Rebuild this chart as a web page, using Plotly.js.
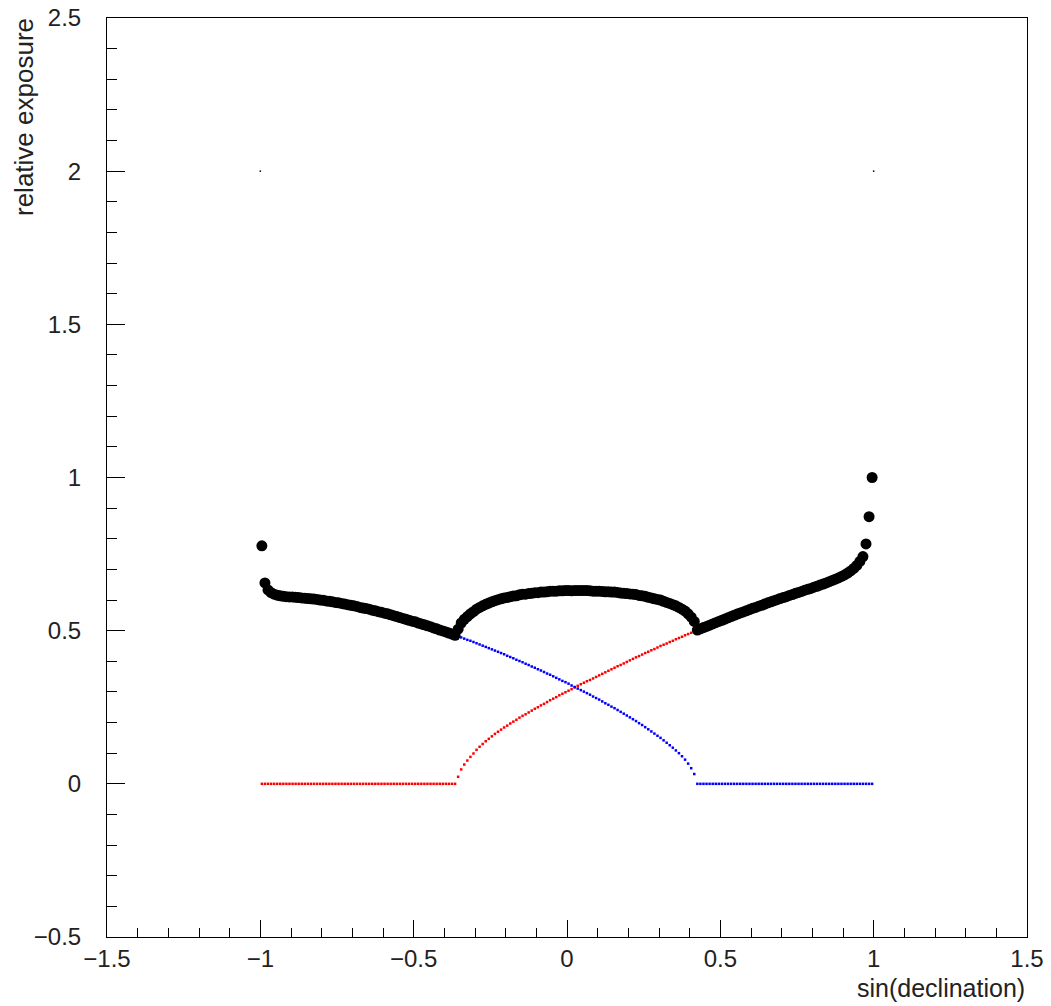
<!DOCTYPE html>
<html>
<head>
<meta charset="utf-8">
<script src="https://cdn.plot.ly/plotly-3.0.1.min.js"></script>
<style>html,body{margin:0;padding:0;background:#fff;}</style>
</head>
<body>
<div id="chart" style="width:1051px;height:1006px;"></div>
<script>
// bin centres of sin(declination)
var sinDec = [
-0.995,-0.985,-0.975,-0.965,-0.955,-0.945,-0.935,-0.925,-0.915,-0.905,
-0.895,-0.885,-0.875,-0.865,-0.855,-0.845,-0.835,-0.825,-0.815,-0.805,
-0.795,-0.785,-0.775,-0.765,-0.755,-0.745,-0.735,-0.725,-0.715,-0.705,
-0.695,-0.685,-0.675,-0.665,-0.655,-0.645,-0.635,-0.625,-0.615,-0.605,
-0.595,-0.585,-0.575,-0.565,-0.555,-0.545,-0.535,-0.525,-0.515,-0.505,
-0.495,-0.485,-0.475,-0.465,-0.455,-0.445,-0.435,-0.425,-0.415,-0.405,
-0.395,-0.385,-0.375,-0.365,-0.355,-0.345,-0.335,-0.325,-0.315,-0.305,
-0.295,-0.285,-0.275,-0.265,-0.255,-0.245,-0.235,-0.225,-0.215,-0.205,
-0.195,-0.185,-0.175,-0.165,-0.155,-0.145,-0.135,-0.125,-0.115,-0.105,
-0.095,-0.085,-0.075,-0.065,-0.055,-0.045,-0.035,-0.025,-0.015,-0.005,
0.005,0.015,0.025,0.035,0.045,0.055,0.065,0.075,0.085,0.095,
0.105,0.115,0.125,0.135,0.145,0.155,0.165,0.175,0.185,0.195,
0.205,0.215,0.225,0.235,0.245,0.255,0.265,0.275,0.285,0.295,
0.305,0.315,0.325,0.335,0.345,0.355,0.365,0.375,0.385,0.395,
0.405,0.415,0.425,0.435,0.445,0.455,0.465,0.475,0.485,0.495,
0.505,0.515,0.525,0.535,0.545,0.555,0.565,0.575,0.585,0.595,
0.605,0.615,0.625,0.635,0.645,0.655,0.665,0.675,0.685,0.695,
0.705,0.715,0.725,0.735,0.745,0.755,0.765,0.775,0.785,0.795,
0.805,0.815,0.825,0.835,0.845,0.855,0.865,0.875,0.885,0.895,
0.905,0.915,0.925,0.935,0.945,0.955,0.965,0.975,0.985,0.995
];

// blue: southern site relative exposure
var blueExposure = [
0.777,0.656,0.633,0.624,0.619,0.616,0.614,0.612,0.611,0.610,
0.610,0.609,0.608,0.607,0.606,0.605,0.604,0.603,0.602,0.600,
0.599,0.597,0.596,0.594,0.592,0.591,0.589,0.587,0.585,0.583,
0.581,0.579,0.576,0.574,0.572,0.570,0.567,0.565,0.562,0.560,
0.557,0.555,0.552,0.549,0.546,0.543,0.540,0.537,0.534,0.531,
0.529,0.525,0.522,0.519,0.516,0.513,0.509,0.506,0.502,0.499,
0.496,0.492,0.489,0.485,0.482,0.478,0.474,0.470,0.467,0.463,
0.459,0.455,0.451,0.447,0.443,0.439,0.435,0.431,0.427,0.423,
0.418,0.414,0.410,0.405,0.401,0.397,0.392,0.388,0.383,0.379,
0.374,0.370,0.365,0.360,0.356,0.351,0.346,0.341,0.336,0.332,
0.327,0.321,0.316,0.311,0.306,0.301,0.296,0.291,0.285,0.280,
0.275,0.269,0.263,0.258,0.252,0.247,0.241,0.235,0.229,0.223,
0.217,0.211,0.205,0.198,0.192,0.185,0.178,0.171,0.164,0.157,
0.150,0.142,0.134,0.126,0.118,0.109,0.100,0.090,0.079,0.066,
0.051,0.032,0,0,0,0,0,0,0,0,
0,0,0,0,0,0,0,0,0,0,
0,0,0,0,0,0,0,0,0,0,
0,0,0,0,0,0,0,0,0,0,
0,0,0,0,0,0,0,0,0,0,
0,0,0,0,0,0,0,0,0,0
];

// red: northern site relative exposure
var redExposure = [
0,0,0,0,0,0,0,0,0,0,
0,0,0,0,0,0,0,0,0,0,
0,0,0,0,0,0,0,0,0,0,
0,0,0,0,0,0,0,0,0,0,
0,0,0,0,0,0,0,0,0,0,
0,0,0,0,0,0,0,0,0,0,
0,0,0,0,0.023,0.047,0.063,0.076,0.088,0.099,
0.111,0.121,0.130,0.139,0.147,0.155,0.163,0.170,0.177,0.184,
0.190,0.197,0.203,0.209,0.216,0.222,0.227,0.233,0.239,0.245,
0.250,0.256,0.261,0.267,0.273,0.278,0.283,0.289,0.294,0.299,
0.304,0.309,0.315,0.320,0.325,0.330,0.335,0.339,0.344,0.349,
0.354,0.359,0.364,0.369,0.374,0.379,0.384,0.388,0.393,0.398,
0.403,0.408,0.413,0.417,0.422,0.427,0.431,0.436,0.440,0.445,
0.450,0.454,0.458,0.463,0.467,0.472,0.476,0.480,0.485,0.489,
0.493,0.498,0.502,0.506,0.510,0.514,0.518,0.522,0.526,0.530,
0.534,0.538,0.542,0.546,0.550,0.554,0.558,0.561,0.565,0.569,
0.573,0.576,0.580,0.583,0.587,0.591,0.594,0.598,0.601,0.605,
0.608,0.611,0.615,0.618,0.622,0.625,0.628,0.632,0.635,0.638,
0.642,0.645,0.649,0.652,0.656,0.660,0.664,0.668,0.672,0.677,
0.682,0.688,0.695,0.703,0.713,0.726,0.742,0.783,0.872,1.000
];

// black: combined relative exposure
var totalExposure = [
0.777,0.656,0.633,0.624,0.619,0.616,0.614,0.612,0.611,0.610,
0.610,0.609,0.608,0.607,0.606,0.605,0.604,0.603,0.602,0.600,
0.599,0.597,0.596,0.594,0.592,0.591,0.589,0.587,0.585,0.583,
0.581,0.579,0.576,0.574,0.572,0.570,0.567,0.565,0.562,0.560,
0.557,0.555,0.552,0.549,0.546,0.543,0.540,0.537,0.534,0.531,
0.529,0.525,0.522,0.519,0.516,0.513,0.509,0.506,0.502,0.499,
0.496,0.492,0.489,0.485,0.505,0.525,0.537,0.546,0.555,0.562,
0.570,0.576,0.581,0.586,0.590,0.594,0.598,0.601,0.604,0.607,
0.608,0.611,0.613,0.614,0.617,0.619,0.619,0.621,0.622,0.624,
0.624,0.626,0.626,0.627,0.629,0.629,0.629,0.630,0.630,0.631,
0.631,0.630,0.631,0.631,0.631,0.631,0.631,0.630,0.629,0.629,
0.629,0.628,0.627,0.627,0.626,0.626,0.625,0.623,0.622,0.621,
0.620,0.619,0.618,0.615,0.614,0.612,0.609,0.607,0.604,0.602,
0.600,0.596,0.592,0.589,0.585,0.581,0.576,0.570,0.564,0.555,
0.544,0.530,0.502,0.506,0.510,0.514,0.518,0.522,0.526,0.530,
0.534,0.538,0.542,0.546,0.550,0.554,0.558,0.561,0.565,0.569,
0.573,0.576,0.580,0.583,0.587,0.591,0.594,0.598,0.601,0.605,
0.608,0.611,0.615,0.618,0.622,0.625,0.628,0.632,0.635,0.638,
0.642,0.645,0.649,0.652,0.656,0.660,0.664,0.668,0.672,0.677,
0.682,0.688,0.695,0.703,0.713,0.726,0.742,0.783,0.872,1.000
];

// two tiny frame points at the top
var markerX = [-1, 1];
var markerY = [2, 2];

var xTitle = 'sin(declination)';
var yTitle = 'relative exposure';

var fontFam = '"Liberation Sans", Arial, Helvetica, sans-serif';

var traces = [
  {x: sinDec, y: redExposure, type: 'scatter', mode: 'markers',
   marker: {symbol: 'square', size: 2.5, color: '#ff0000', line: {width: 0}},
   hoverinfo: 'x+y', showlegend: false},
  {x: sinDec, y: blueExposure, type: 'scatter', mode: 'markers',
   marker: {symbol: 'square', size: 2.5, color: '#0000ff', line: {width: 0}},
   hoverinfo: 'x+y', showlegend: false},
  {x: sinDec, y: totalExposure, type: 'scatter', mode: 'markers',
   marker: {symbol: 'circle', size: 11, color: '#000000', line: {width: 0}},
   hoverinfo: 'x+y', showlegend: false},
  {x: markerX, y: markerY, type: 'scatter', mode: 'markers',
   marker: {symbol: 'square', size: 1.5, color: '#000000', line: {width: 0}},
   hoverinfo: 'x+y', showlegend: false}
];

var layout = {
  width: 1051, height: 1006,
  margin: {l: 107, r: 24, t: 18, b: 69, pad: 0},
  paper_bgcolor: '#ffffff', plot_bgcolor: '#ffffff',
  font: {family: fontFam, color: '#000000', size: 24},
  showlegend: false,
  xaxis: {
    range: [-1.5, 1.5], tickmode: 'linear', tick0: -1.5, dtick: 0.5,
    ticks: 'inside', ticklen: 17, tickwidth: 1, tickcolor: '#000',
    minor: {ticks: 'inside', ticklen: 9, dtick: 0.1, tick0: -1.5, tickcolor: '#000', tickwidth: 1, showgrid: false},
    showgrid: false, zeroline: false,
    showline: true, linecolor: '#000', linewidth: 1, mirror: true,
    tickfont: {family: fontFam, size: 24, color: '#222'},
    ticklabelstandoff: 0
  },
  yaxis: {
    range: [-0.5, 2.5], tickmode: 'linear', tick0: -0.5, dtick: 0.5,
    ticks: 'inside', ticklen: 18, tickwidth: 1, tickcolor: '#000',
    minor: {ticks: 'inside', ticklen: 10, dtick: 0.1, tick0: -0.5, tickcolor: '#000', tickwidth: 1, showgrid: false},
    showgrid: false, zeroline: false,
    showline: true, linecolor: '#000', linewidth: 1, mirror: true,
    tickfont: {family: fontFam, size: 24, color: '#222'},
    ticklabelstandoff: 20
  },
  annotations: [
    {text: xTitle, xref: 'paper', yref: 'paper', x: 1, y: 0,
     xanchor: 'right', yanchor: 'middle', yshift: -51, showarrow: false,
     font: {family: fontFam, size: 25, color: '#222'}},
    {text: yTitle, xref: 'paper', yref: 'paper', x: 0, y: 1,
     xanchor: 'center', yanchor: 'top', xshift: -83, yshift: 2, showarrow: false,
     textangle: -90, font: {family: fontFam, size: 26, color: '#222'}}
  ]
};

Plotly.newPlot('chart', traces, layout, {displayModeBar: false, staticPlot: true});
</script>
</body>
</html>
